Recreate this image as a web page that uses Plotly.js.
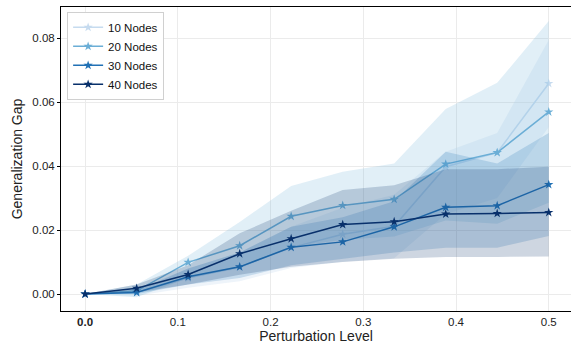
<!DOCTYPE html>
<html>
<head>
<meta charset="utf-8">
<script src="https://cdn.plot.ly/plotly-3.0.1.min.js"></script>
<style>html,body{margin:0;padding:0;background:#fff;}#chart{width:571px;height:347px;}</style>
</head>
<body>
<div id="chart"></div>
<script>
const perturbation = [0, 0.0556, 0.1111, 0.1667, 0.2222, 0.2778, 0.3333, 0.3889, 0.4444, 0.5];
const seriesNames = ['10 Nodes', '20 Nodes', '30 Nodes', '40 Nodes'];

const mean10 = [0, 0.0005, 0.0050, 0.0085, 0.0145, 0.0187, 0.0212, 0.0398, 0.0442, 0.0658];
const lower10 = [0, -0.0005, 0.0020, 0.0040, 0.0081, 0.0101, 0.0112, 0.0250, 0.0300, 0.0522];
const upper10 = [0, 0.0015, 0.0080, 0.0130, 0.0210, 0.0270, 0.0310, 0.0445, 0.0503, 0.0794];

const mean20 = [0, 0.0010, 0.0099, 0.0151, 0.0243, 0.0277, 0.0296, 0.0406, 0.0442, 0.0569];
const lower20 = [0, -0.0010, 0.0050, 0.0080, 0.0148, 0.0170, 0.0180, 0.0230, 0.0220, 0.0285];
const upper20 = [0, 0.0030, 0.0120, 0.0225, 0.0338, 0.0382, 0.0408, 0.0578, 0.0660, 0.0853];

const mean30 = [0, 0.0005, 0.0054, 0.0085, 0.0146, 0.0163, 0.0210, 0.0271, 0.0276, 0.0342];
const lower30 = [0, 0.0000, 0.0030, 0.0050, 0.0090, 0.0110, 0.0130, 0.0145, 0.0145, 0.0181];
const upper30 = [0, 0.0010, 0.0080, 0.0130, 0.0210, 0.0240, 0.0290, 0.0445, 0.0408, 0.0503];

const mean40 = [0, 0.0018, 0.0061, 0.0126, 0.0173, 0.0217, 0.0226, 0.0250, 0.0252, 0.0255];
const lower40 = [0, 0.0005, 0.0030, 0.0060, 0.0085, 0.0100, 0.0110, 0.0116, 0.0116, 0.0117];
const upper40 = [0, 0.0030, 0.0090, 0.0190, 0.0260, 0.0325, 0.0340, 0.0390, 0.0390, 0.0398];

const xTickVals = [0, 0.1, 0.2, 0.3, 0.4, 0.5];
const xTickText = ['<b>0.0</b>', '0.1', '0.2', '0.3', '0.4', '0.5'];
const yTickVals = [0, 0.02, 0.04, 0.06, 0.08];
const yTickText = ['0.00', '0.02', '0.04', '0.06', '0.08'];

const colors = ['#c6dbef', '#6baed6', '#2171b5', '#08306b'];
const fills = ['rgba(198,219,239,0.3)', 'rgba(107,174,214,0.2)', 'rgba(33,113,181,0.2)', 'rgba(8,48,107,0.2)'];
const means = [mean10, mean20, mean30, mean40];
const lowers = [lower10, lower20, lower30, lower40];
const uppers = [upper10, upper20, upper30, upper40];

const traces = [];
for (let i = 0; i < 4; i++) {
  traces.push({x: perturbation, y: lowers[i], mode: 'lines', line: {width: 0, color: fills[i]}, showlegend: false, hoverinfo: 'skip'});
  traces.push({x: perturbation, y: uppers[i], mode: 'lines', line: {width: 0, color: fills[i]}, fill: 'tonexty', fillcolor: fills[i], showlegend: false, hoverinfo: 'skip'});
  traces.push({x: perturbation, y: means[i], mode: 'lines+markers', name: seriesNames[i],
    line: {color: colors[i], width: 1.5}, marker: {symbol: 'star', size: 7, color: colors[i]}});
}

const layout = {
  width: 571, height: 347,
  margin: {l: 61, r: 0, t: 7, b: 36},
  paper_bgcolor: '#ffffff', plot_bgcolor: '#ffffff',
  font: {family: 'Liberation Sans, Arial, sans-serif', size: 11, color: '#222'},
  xaxis: {
    range: [-0.026, 0.524], tickvals: xTickVals, ticktext: xTickText,
    showgrid: true, gridcolor: '#ebebeb', gridwidth: 1, zeroline: false,
    showline: true, linecolor: '#000', linewidth: 1, mirror: true, ticks: '',
    tickfont: {size: 11.5, color: '#222'},
    title: {text: 'Perturbation Level', font: {size: 14, color: '#222'}, standoff: 4}
  },
  yaxis: {
    range: [-0.0053, 0.0897], tickvals: yTickVals, ticktext: yTickText,
    showgrid: true, gridcolor: '#ebebeb', gridwidth: 1, zeroline: false,
    showline: true, linecolor: '#000', linewidth: 1, mirror: false, ticks: 'outside', ticklen: 3, tickcolor: '#000',
    tickfont: {size: 11.5, color: '#222'},
    title: {text: 'Generalization Gap', font: {size: 14, color: '#222'}, standoff: 6}
  },
  legend: {x: 0.012, y: 0.984, xanchor: 'left', yanchor: 'top', bgcolor: '#ffffff', bordercolor: '#d0d0d0', borderwidth: 1,
    font: {size: 11.5, color: '#111'}, traceorder: 'normal', tracegroupgap: 0, itemwidth: 30},
  showlegend: true
};

Plotly.newPlot('chart', traces, layout, {displayModeBar: false, staticPlot: true});
</script>
</body>
</html>
